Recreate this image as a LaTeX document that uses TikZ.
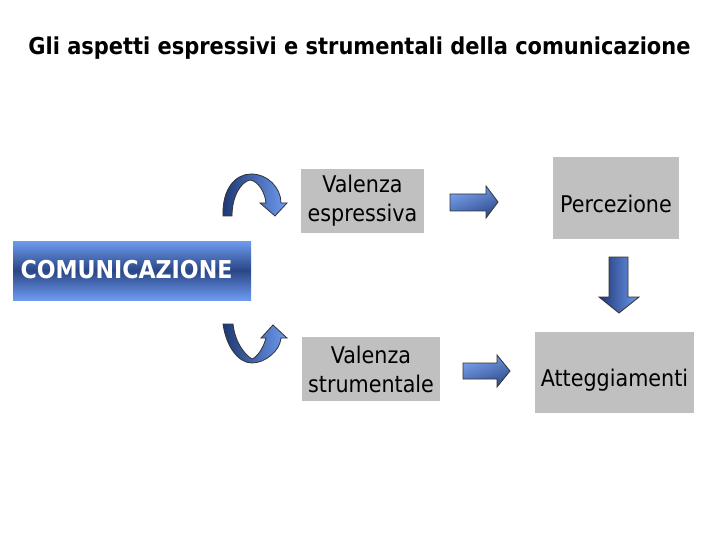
\documentclass[tikz,border=0pt]{standalone}
\usepackage{fontspec}
\setmainfont{DejaVu Sans Condensed}
\usetikzlibrary{positioning}
\definecolor{lblue}{RGB}{110,155,240}
\definecolor{dblue}{RGB}{30,55,115}
\definecolor{boxgray}{RGB}{192,192,192}
\tikzset{
  graybox/.style={fill=boxgray, draw=none, inner sep=0pt, align=center, font=\fontsize{23}{29}\selectfont},
  blockarrow/.style={draw=black!80, line width=0.8pt, line join=miter},
}
\begin{document}
\begin{tikzpicture}[x=1pt,y=-1pt]
\useasboundingbox (0,0) rectangle (720,540);
\fill[white] (0,0) rectangle (720,540);

% title
\node[font=\fontsize{23.3}{28}\selectfont\bfseries] (title) at (359.5,48) {Gli aspetti espressivi e strumentali della comunicazione};

% boxes
\node[graybox, minimum width=123pt, minimum height=64pt] (ve) at (362.5,201) {Valenza\\espressiva};
\node[graybox, minimum width=126pt, minimum height=82pt, text height=29pt, text depth=0pt] (perc) at (616,198) {Percezione};
\node[graybox, minimum width=138pt, minimum height=64pt] (vs) at (371,369) {Valenza\\strumentale};
\node[graybox, minimum width=159pt, minimum height=81pt, text height=27pt, text depth=0pt] (att) at (614.5,372.5) {Atteggiamenti};

% COMUNICAZIONE
\shade[top color=lblue, bottom color=lblue, middle color=dblue!85!lblue] (13,241) rectangle (251,300);
\node[text=white, font=\fontsize{24.6}{28}\selectfont\bfseries] (com) at (126.5,270) {COMUNICAZIONE};

% right arrows
\shadedraw[blockarrow, top color=lblue!90, bottom color=dblue!80!lblue, shading angle=20]
  (450,194) -- (486,194) -- (486,186) -- (498,202) -- (486,218) -- (486,211) -- (450,211) -- cycle;
\shadedraw[blockarrow, top color=lblue!90, bottom color=dblue!80!lblue, shading angle=20]
  (463,363) -- (497,363) -- (497,355) -- (510,371) -- (497,387) -- (497,379) -- (463,379) -- cycle;

% down arrow
\shadedraw[blockarrow, left color=dblue, right color=lblue]
  (609,257) -- (628,257) -- (628,297) -- (639,297) -- (619,313) -- (599,297) -- (609,297) -- cycle;

% top curved arrow
\shadedraw[blockarrow, left color=dblue, right color=lblue]
  (223,216) .. controls (222,188) and (236,174) .. (251,174)
  .. controls (268,174) and (281,188) .. (281,203)
  -- (287,203) -- (275,216) -- (260,203) -- (266,203)
  .. controls (265,192) and (258,181) .. (250,180)
  .. controls (241,182) and (232,196) .. (232,216) -- cycle;

% bottom curved arrow
\shadedraw[blockarrow, left color=dblue, right color=lblue]
  (223,324) .. controls (226,346) and (238,363) .. (252,363)
  .. controls (265,363) and (280,351) .. (281,338)
  -- (287,338) -- (273,325) -- (261,338) -- (266,338)
  .. controls (263,349) and (257,357) .. (252,359)
  .. controls (244,354) and (235,342) .. (233,324) -- cycle;
\end{tikzpicture}
\end{document}
